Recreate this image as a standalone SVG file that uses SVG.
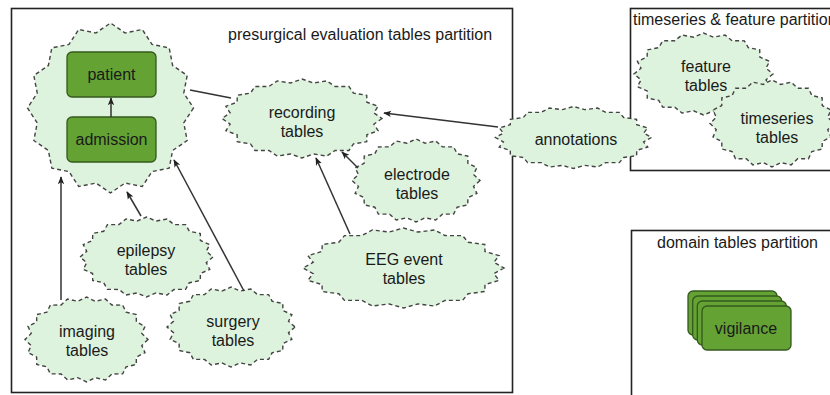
<svg xmlns="http://www.w3.org/2000/svg" xmlns:xlink="http://www.w3.org/1999/xlink" width="830" height="395" viewBox="0 0 830 395">
<style>
  .part { fill: #ffffff; stroke: #222; stroke-width: 1.6; }
  .ptitle { font-family: "Liberation Sans", Arial, sans-serif; font-size: 16px; fill: #1a1a1a; }
  .cloud { fill: #ddf3dd; stroke: #444; stroke-width: 1.4; stroke-dasharray: 4 3; }
  .label { font-family: "Liberation Sans", Arial, sans-serif; font-size: 16px; fill: #1a1a1a; text-anchor: middle; }
  .box { fill: #64a234; stroke: #34591c; stroke-width: 1.3; }
  .conn { fill: none; stroke: #333; stroke-width: 1.5; }
</style>
<defs>
  <marker id="ah" viewBox="0 0 10 10" refX="9" refY="5" markerWidth="8" markerHeight="8" markerUnits="userSpaceOnUse" orient="auto">
    <path d="M0,1 L10,5 L0,9 L2.5,5 Z" fill="#222"/>
  </marker>
  <polygon id="c20" vector-effect="non-scaling-stroke" points="1,0 .8988,.1423 .9511,.3090 .8108,.4131 .8090,.5878 .6435,.6435 .5878,.8090 .4131,.8108 .3090,.9511 .1423,.8988 0,1 -.1423,.8988 -.3090,.9511 -.4131,.8108 -.5878,.8090 -.6435,.6435 -.8090,.5878 -.8108,.4131 -.9511,.3090 -.8988,.1423 -1,0 -.8988,-.1423 -.9511,-.3090 -.8108,-.4131 -.8090,-.5878 -.6435,-.6435 -.5878,-.8090 -.4131,-.8108 -.3090,-.9511 -.1423,-.8988 0,-1 .1423,-.8988 .3090,-.9511 .4131,-.8108 .5878,-.8090 .6435,-.6435 .8090,-.5878 .8108,-.4131 .9511,-.3090 .8988,-.1423"/>
  <polygon id="c16" vector-effect="non-scaling-stroke" points="1,0 .8827,.1756 .9239,.3827 .7484,.5 .7071,.7071 .5,.7484 .3827,.9239 .1756,.8827 0,1 -.1756,.8827 -.3827,.9239 -.5,.7484 -.7071,.7071 -.7484,.5 -.9239,.3827 -.8827,.1756 -1,0 -.8827,-.1756 -.9239,-.3827 -.7484,-.5 -.7071,-.7071 -.5,-.7484 -.3827,-.9239 -.1756,-.8827 0,-1 .1756,-.8827 .3827,-.9239 .5,-.7484 .7071,-.7071 .7484,-.5 .9239,-.3827 .8827,-.1756"/>
</defs>
<rect width="830" height="395" fill="#ffffff"/>

<g id="partitions">
  <rect class="part" x="11.5" y="8.5" width="501" height="384"/>
  <text class="ptitle" x="228" y="40">presurgical evaluation tables partition</text>
  <rect class="part" x="630.5" y="8.5" width="210" height="162"/>
  <text class="ptitle" x="633" y="25">timeseries &amp; feature partition</text>
  <rect class="part" x="631.5" y="230.5" width="210" height="170"/>
  <text class="ptitle" x="657" y="248">domain tables partition</text>
</g>

<g id="core">
  <use xlink:href="#c16" class="cloud" transform="translate(110.5,108) scale(83,85)"/>
</g>
<g id="patient">
  <rect class="box" x="67" y="52" width="89" height="45" rx="5"/>
  <text class="label" x="111.5" y="80">patient</text>
</g>
<g id="admission">
  <rect class="box" x="67" y="117" width="89" height="45" rx="5"/>
  <text class="label" x="111.5" y="145">admission</text>
</g>

<g id="recording">
  <use xlink:href="#c20" class="cloud" transform="translate(302,118.5) scale(80,39.5)"/>
  <text class="label" x="302" y="118">recording</text>
  <text class="label" x="302" y="137">tables</text>
</g>
<g id="annotations">
  <use xlink:href="#c20" class="cloud" transform="translate(573.5,137.5) scale(78,31)"/>
  <text class="label" x="576" y="145">annotations</text>
</g>
<g id="electrode">
  <use xlink:href="#c20" class="cloud" transform="translate(416,180.5) scale(64,41.5)"/>
  <text class="label" x="417" y="180">electrode</text>
  <text class="label" x="417" y="199">tables</text>
</g>
<g id="eeg">
  <use xlink:href="#c20" class="cloud" transform="translate(403.5,268) scale(100.5,40)"/>
  <text class="label" x="404" y="265">EEG event</text>
  <text class="label" x="404" y="284">tables</text>
</g>
<g id="epilepsy">
  <use xlink:href="#c20" class="cloud" transform="translate(146.5,257) scale(66.5,40)"/>
  <text class="label" x="146" y="256">epilepsy</text>
  <text class="label" x="146" y="275">tables</text>
</g>
<g id="imaging">
  <use xlink:href="#c20" class="cloud" transform="translate(86.5,339.5) scale(61.5,42.5)"/>
  <text class="label" x="87" y="337">imaging</text>
  <text class="label" x="87" y="356">tables</text>
</g>
<g id="surgery">
  <use xlink:href="#c20" class="cloud" transform="translate(231,327) scale(64,40)"/>
  <text class="label" x="233" y="327">surgery</text>
  <text class="label" x="233" y="346">tables</text>
</g>
<g id="feature">
  <use xlink:href="#c20" class="cloud" transform="translate(703.5,74) scale(69.5,41)"/>
  <text class="label" x="706" y="72">feature</text>
  <text class="label" x="706" y="91">tables</text>
</g>
<g id="timeseries">
  <use xlink:href="#c20" class="cloud" transform="translate(772,123.5) scale(62,43.5)"/>
  <text class="label" x="777" y="124">timeseries</text>
  <text class="label" x="777" y="143">tables</text>
</g>

<g id="vigilance">
  <rect class="box" x="688" y="291" width="89" height="44" rx="5"/>
  <rect class="box" x="692.7" y="296" width="89" height="44" rx="5"/>
  <rect class="box" x="697.3" y="301" width="89" height="44" rx="5"/>
  <rect class="box" x="702" y="306" width="89" height="44" rx="5"/>
  <text class="label" x="746" y="334">vigilance</text>
</g>

<g id="connectors">
  <line class="conn" x1="190" y1="90" x2="231" y2="98"/>
  <line class="conn" x1="498" y1="127" x2="384" y2="113" marker-end="url(#ah)"/>
  <line class="conn" x1="358" y1="168" x2="342" y2="152" marker-end="url(#ah)"/>
  <line class="conn" x1="350" y1="234" x2="316" y2="158" marker-end="url(#ah)"/>
  <line class="conn" x1="141" y1="216" x2="127" y2="192" marker-end="url(#ah)"/>
  <line class="conn" x1="61" y1="300" x2="61" y2="177" marker-end="url(#ah)"/>
  <line class="conn" x1="244" y1="291" x2="174" y2="160" marker-end="url(#ah)"/>
  <line class="conn" x1="111" y1="117" x2="111" y2="98" marker-end="url(#ah)"/>
</g>
</svg>
